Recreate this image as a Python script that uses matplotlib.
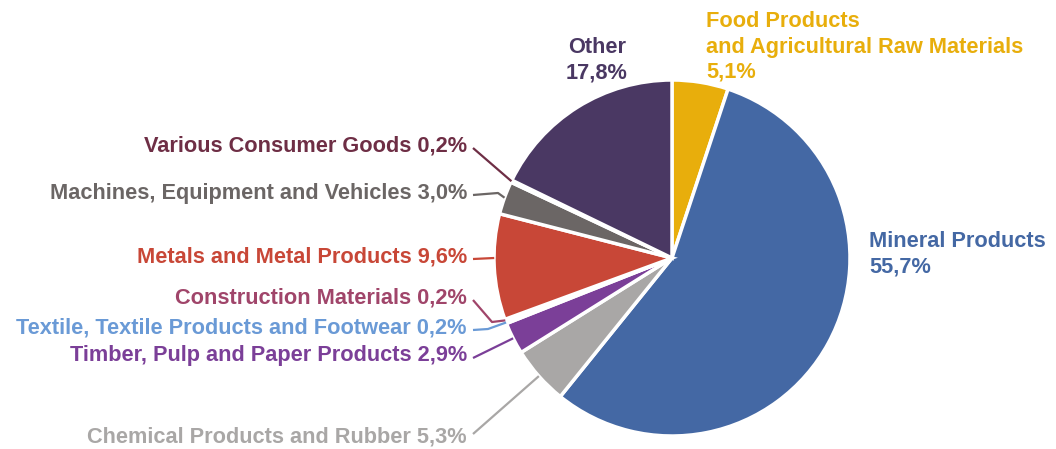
import numpy as np
import matplotlib.pyplot as plt

# Данные
categories = ['Food Products\nand Agricultural Raw Materials', 'Mineral Products',
              'Chemical Products and Rubber', 'Timber, Pulp and Paper Products',
              'Textile, Textile Products and Footwear', 'Construction Materials',
              'Metals and Metal Products', 'Machines, Equipment and Vehicles',
              'Various Consumer Goods', 'Other']
shares = [5.1, 55.7, 5.3, 2.9, 0.2, 0.2, 9.6, 3.0, 0.2, 17.8]
colors = ['#E8AE0C', '#4468A4', '#A9A7A6', '#7B3F98', '#6A9AD6',
          '#A0456A', '#C84737', '#6B6665', '#6E2E45', '#4A3863']

plt.rcParams['font.family'] = ['Liberation Sans', 'DejaVu Sans']

W, H = 1056, 449
figure = plt.figure(figsize=(W / 100, H / 100), dpi=100)
axes = figure.add_axes([0, 0, 1, 1])

cx, cy, R = 672, H - 258, 178
wedges, _ = axes.pie(shares, colors=colors, startangle=90, counterclock=False,
                     radius=R, center=(cx, cy),
                     wedgeprops=dict(edgecolor='white', linewidth=2.5))
axes.set_xlim(0, W)
axes.set_ylim(0, H)
axes.set_aspect('equal')
axes.axis('off')


def fmt(v):
    return f'{v:.1f}'.replace('.', ',') + '%'


def edge_point(w):
    th = np.deg2rad((w.theta1 + w.theta2) / 2)
    return cx + R * np.cos(th), cy + R * np.sin(th)


fs = 15.7
# Левые подписи: (индекс, y текста в пикселях, точка излома или None)
left = [(8, 146, None), (7, 193, (498, 193)), (6, 257, None),
        (5, 298, (492, 322)), (4, 328, (488, 329)), (3, 356, None),
        (2, 437, None)]
for i, ty, knee in left:
    c = colors[i]
    axes.text(467, H - ty, f'{categories[i]} {fmt(shares[i])}', ha='right',
              va='center', fontsize=fs, fontweight='bold', color=c)
    ex, ey = edge_point(wedges[i])
    if i == 6:
        ey = H - 258
    xs = [473]
    ys = [H - ty - 2 if i != 2 else H - ty + 3]
    if knee is not None:
        xs.append(knee[0])
        ys.append(H - knee[1])
    xs.append(ex)
    ys.append(ey)
    axes.plot(xs, ys, color=c, lw=1.6, solid_capstyle='butt')

# Правые и верхние подписи
axes.text(869, H - 254, f'{categories[1]}\n{fmt(shares[1])}', ha='left', va='center',
          fontsize=fs, fontweight='bold', color=colors[1], linespacing=1.28)
axes.text(706, H - 47, f'{categories[0]}\n{fmt(shares[0])}', ha='left', va='center',
          fontsize=fs, fontweight='bold', color=colors[0], linespacing=1.28)
axes.text(597, H - 60, f'{categories[9]}\n{fmt(shares[9])}', ha='center', va='center',
          fontsize=fs, fontweight='bold', color=colors[9], linespacing=1.28)

figure.savefig('out.png', dpi=100, facecolor='white')
